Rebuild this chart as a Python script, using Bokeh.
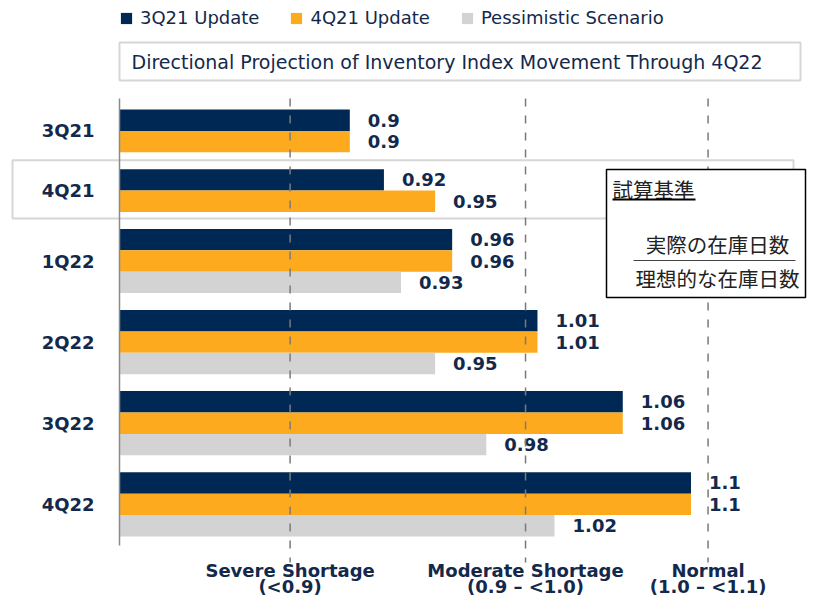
from bokeh.plotting import figure
from bokeh.models import Range1d, Legend, LegendItem, ColumnDataSource
from bokeh.core.properties import value
from bokeh.embed import file_html
from bokeh.resources import INLINE

# ---------------- data ----------------
categories = ["3Q21", "4Q21", "1Q22", "2Q22", "3Q22", "4Q22"]
series_names = ["3Q21 Update", "4Q21 Update", "Pessimistic Scenario"]
update_3q21 = [0.90, 0.92, 0.96, 1.01, 1.06, 1.10]
update_4q21 = [0.90, 0.95, 0.96, 1.01, 1.06, 1.10]
pessimistic = [None, None, 0.93, 0.95, 0.98, 1.02]
zone_labels = ["Severe Shortage", "Moderate Shortage", "Normal"]
zone_ranges = ["(<0.9)", "(0.9 \u2013 <1.0)", "(1.0 \u2013 <1.1)"]
zone_marks = [0.865, 1.003, 1.110]
highlight_category = "4Q21"
title_text = "Directional Projection of Inventory Index Movement Through 4Q22"
note_title = "試算基準"
note_numerator = "実際の在庫日数"
note_denominator = "理想的な在庫日数"

# ---------------- style / layout ----------------
colors = ["#002855", "#FDAA1E", "#D3D3D3"]
TEXT = "#13294B"
W, H = 815, 597
PXU = 1706.0          # pixels per index unit
X0 = 0.765            # index value at the axis line
AX_PX = 119           # x of the axis line
SLOT = 21.4           # bar thickness in px
GAP = 0.79            # gap between groups, in bar thicknesses
TOP_PX = 109          # y of first bar top
BOLD = "DejaVu Sans"
REG = "DejaVu Sans"
CJK = "Noto Sans CJK JP"


def vx(px):
    return X0 + (px - AX_PX) / PXU


def uy(py):
    return (py - TOP_PX) / SLOT


p = figure(width=W, height=H, output_backend="svg", toolbar_location=None,
           x_range=Range1d(vx(0), vx(W)), y_range=Range1d(uy(H), uy(0)),
           x_axis_location=None, y_axis_location=None, min_border=0,
           background_fill_color="white", border_fill_color="white")
p.outline_line_color = None
p.grid.visible = False

# compute bar slots
series_vals = [update_3q21, update_4q21, pessimistic]
bars = [dict(y=[], right=[], lab=[]) for _ in series_vals]
centers, spans = [], []
pos = 0.0
for i, cat in enumerate(categories):
    start = pos
    for j, vals in enumerate(series_vals):
        v = vals[i]
        if v is None:
            continue
        bars[j]["y"].append(pos + 0.5)
        bars[j]["right"].append(v)
        bars[j]["lab"].append(f"{v:g}")
        pos += 1
    centers.append((start + pos) / 2)
    spans.append((start, pos))
    pos += GAP

# highlight box for current quarter
hi = categories.index(highlight_category)
p.quad(left=[vx(12)], right=[vx(793)], top=[spans[hi][0] - 0.42], bottom=[spans[hi][1] + 0.3],
       fill_color=None, line_color="#D6D6D6", line_width=2)

renderers = []
for j, b in enumerate(bars):
    src = ColumnDataSource(b)
    r = p.hbar(y="y", left=X0, right="right", height=1.0, source=src,
               fill_color=colors[j], line_color=None)
    renderers.append(r)
    p.text(x="right", y="y", text="lab", source=src, x_offset=18,
           text_baseline="middle", text_align="left", text_font=value(BOLD),
           text_font_style="bold", text_font_size="18px", text_color=TEXT)

# axis line
p.segment(x0=[X0], x1=[X0], y0=[uy(98)], y1=[uy(545)], line_color="#8A8A8A", line_width=1.5)

# zone dashed lines
p.segment(x0=zone_marks, x1=zone_marks, y0=[uy(98)] * 3, y1=[uy(562)] * 3,
          line_color="#7A7A7A", line_width=1.5, line_dash="8 9")

# category labels
p.text(x=[vx(94)] * len(categories), y=centers, text=categories, text_align="right",
       text_baseline="middle", text_font=value(BOLD), text_font_style="bold",
       text_font_size="18px", text_color=TEXT)

# zone labels
p.text(x=zone_marks, y=[uy(570)] * 3, text=zone_labels, text_align="center",
       text_baseline="middle", text_font=value(BOLD), text_font_style="bold",
       text_font_size="18px", text_color=TEXT)
p.text(x=zone_marks, y=[uy(586)] * 3, text=zone_ranges, text_align="center",
       text_baseline="middle", text_font=value(BOLD), text_font_style="bold",
       text_font_size="18px", text_color=TEXT)

# title box
p.quad(left=[vx(119)], right=[vx(800)], top=[uy(42)], bottom=[uy(80)],
       fill_color="white", line_color="#D6D6D6", line_width=2)
p.text(x=[vx(131)], y=[uy(61)], text=[title_text], text_align="left",
       text_baseline="middle", text_font=value(REG), text_font_size="19px",
       text_color=TEXT)

# note box (Japanese)
p.quad(left=[vx(606)], right=[vx(805)], top=[uy(169)], bottom=[uy(297)],
       fill_color="white", line_color="black", line_width=1.5)
p.text(x=[vx(612)], y=[uy(188)], text=[note_title], text_align="left",
       text_baseline="middle", text_font=value(CJK), text_font_size="20.5px",
       text_color="#222222")
p.segment(x0=[vx(612)], x1=[vx(695)], y0=[uy(199)], y1=[uy(199)],
          line_color="black", line_width=2)
p.text(x=[vx(717)], y=[uy(243)], text=[note_numerator], text_align="center",
       text_baseline="middle", text_font=value(CJK), text_font_size="20.5px",
       text_color="#222222")
p.segment(x0=[vx(633)], x1=[vx(795)], y0=[uy(260)], y1=[uy(260)],
          line_color="#444444", line_width=1)
p.text(x=[vx(717)], y=[uy(277)], text=[note_denominator], text_align="center",
       text_baseline="middle", text_font=value(CJK), text_font_size="20.5px",
       text_color="#222222")

legend = Legend(items=[LegendItem(label=n, renderers=[r]) for n, r in zip(series_names, renderers)],
                orientation="horizontal", location=(119, 569), padding=0, margin=0,
                spacing=30, label_standoff=7, glyph_width=14, glyph_height=14,
                label_height=14, label_text_font=REG, label_text_font_size="18px",
                label_text_color=TEXT, border_line_color=None,
                background_fill_alpha=0)
p.add_layout(legend)

open("out.html", "w").write(file_html(p, INLINE))
